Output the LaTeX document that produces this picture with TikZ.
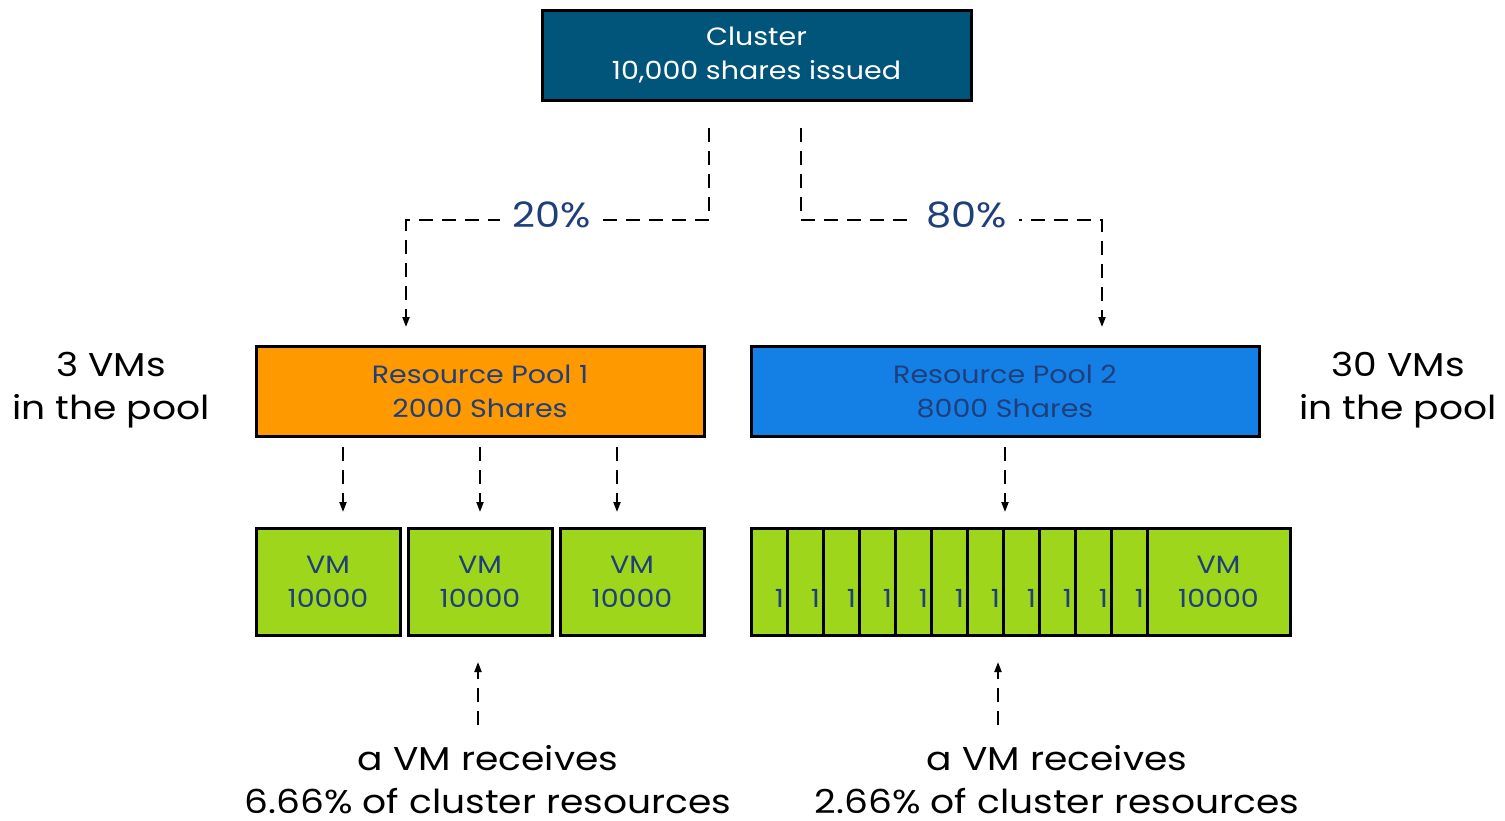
\documentclass[tikz,border=0pt]{standalone}
\usepackage{fontspec}
\setmainfont{Poppins}[FakeStretch=1.14]
\usepackage{tikz}
\usetikzlibrary{arrows.meta, positioning}
\definecolor{clustercolor}{HTML}{02557A}
\definecolor{poolorange}{HTML}{FF9900}
\definecolor{poolblue}{HTML}{1480E6}
\definecolor{vmgreen}{HTML}{9DD61A}
\definecolor{labelblue}{HTML}{1F3F7C}

\begin{document}
\begin{tikzpicture}[x=1pt, y=-1pt,
    share box/.style={rectangle, draw=black, line width=3pt, fill=#1, outer sep=0pt,
                      align=center, text=labelblue, font=\fontsize{25}{34}\selectfont},
    vm box/.style={share box=vmgreen, minimum width=144pt, minimum height=107pt},
    tiny vm/.style={share box=vmgreen, minimum width=36pt, minimum height=107pt,
                    text width=30pt, align=right, inner xsep=2pt},
    share flow/.style={-{Triangle[length=10pt, width=7pt]}, line width=2pt,
                       dash pattern=on 14pt off 9pt},
    pct/.style={fill=white, text=labelblue, font=\fontsize{35}{40}\selectfont,
                inner xsep=12pt, yshift=5pt},
    side text/.style={align=center, inner sep=0pt, font=\fontsize{33}{43}\selectfont},
]
    \useasboundingbox (0,0) rectangle (1505,820);

    % ── Cluster ──
    \node[share box=clustercolor, text=white, minimum width=429pt, minimum height=90pt]
        (cluster) at (756.5,55) {Cluster\\10,000 shares issued};

    % ── Resource pools ──
    \node[share box=poolorange, minimum width=448pt, minimum height=90pt]
        (rp1) at (480,391) {Resource Pool 1\\2000 Shares};
    \node[share box=poolblue, minimum width=508pt, minimum height=90pt]
        (rp2) at (1005,391) {Resource Pool 2\\8000 Shares};

    \node[side text] (left count) at (111,390) {3 VMs\\in the pool};
    \node[side text] (right count) at (1398,390) {30 VMs\\in the pool};

    \coordinate (l bend) at (406,220);
    \coordinate (r bend) at (1102,220);

    \draw[share flow, shorten <=28pt, shorten >=19pt]
        ([xshift=-48pt]cluster.south) |- node[pct, pos=0.76] {20\%} (l bend) -- (l bend |- rp1.north);
    \draw[share flow, shorten <=28pt, shorten >=19pt]
        ([xshift=44pt]cluster.south) |- node[pct, pos=0.775] {80\%} (r bend) -- (r bend |- rp2.north);

    % ── VMs in pool 1 ──
    \node[vm box] (vm1) at (328,581.5) {VM\\10000};
    \node[vm box, right=8pt of vm1] (vm2) {VM\\10000};
    \node[vm box, right=8pt of vm2] (vm3) {VM\\10000};

    \foreach \dx in {-137,0,137}
        \draw[share flow, shorten <=11pt, shorten >=16pt]
            ([xshift=\dx pt]rp1.south) -- ([xshift=\dx pt]rp1.south |- vm1.north);

    % ── VMs in pool 2 ──
    \foreach \i in {1,...,11}
        \node[tiny vm] (t\i) at ({751+36*(\i-1)+18},581.5) {\vphantom{VM}\\1};
    \node[vm box, minimum width=143pt, right=0pt of t11] (vm4) {VM\\10000};

    \draw[share flow, shorten <=11pt, shorten >=16pt] (rp2.south) -- (rp2.south |- t7.north);

    % ── What a VM receives ──
    \node[side text] (left recv) at (488,780) {a VM receives\\6.66\% of cluster resources};
    \node[side text] (right recv) at (1057,780) {a VM receives\\2.66\% of cluster resources};

    \coordinate (l recv) at (478,725);
    \coordinate (r recv) at (998,725);
    \draw[share flow, shorten >=27pt] (l recv) -- (l recv |- vm2.south);
    \draw[share flow, shorten >=27pt] (r recv) -- (r recv |- t7.south);

\end{tikzpicture}
\end{document}
